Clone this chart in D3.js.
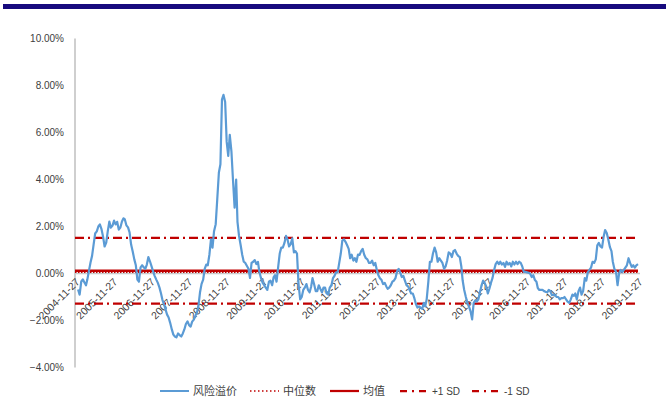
<!DOCTYPE html>
<html>
<head>
<meta charset="utf-8">
<script src="https://cdn.jsdelivr.net/npm/d3@7"></script>
<style>
  html, body { margin: 0; padding: 0; background: #fff; }
  svg { display: block; }
  text { font-family: "Liberation Sans", Arial, sans-serif; fill: #404040; }
  .cjk { font-family: "Noto Sans CJK SC", sans-serif; }
</style>
</head>
<body>
<svg id="chart" width="666" height="417"></svg>
<script>
// ---- data ----
const startDate = "2004-11-27";           // first category; two observations per month
const tickLabels = ["2004-11-27","2005-11-27","2006-11-27","2007-11-27","2008-11-27",
  "2009-11-27","2010-11-27","2011-11-27","2012-11-27","2013-11-27","2014-11-27",
  "2015-11-27","2016-11-27","2017-11-27","2018-11-27","2019-11-27"];
const yTicks = [-4, -2, 0, 2, 4, 6, 8, 10];
// risk premium (%), semi-monthly, one row per year starting at startDate
const premium = [
  null,null,-0.68,-0.9,-0.34,-0.25,-0.38,-0.5,-0.26,0.1,0.47,0.75,1.23,1.7,1.79,2.0,2.09,1.9,1.57,1.15,1.32,1.8,2.21,1.95,
  2.04,2.25,2.09,2.2,1.87,1.95,2.21,2.35,2.30,2.05,1.96,1.75,1.23,0.95,0.60,0.35,-0.26,-0.35,0.26,0.35,0.26,0.2,0.38,0.7,
  0.51,0.3,0.09,-0.1,-0.26,-0.4,-0.60,-0.85,-1.11,-1.3,-1.53,-1.75,-1.87,-2.1,-2.38,-2.6,-2.68,-2.72,-2.55,-2.62,-2.68,-2.55,-2.38,-2.15,
  -2.04,-2.2,-2.26,-2.05,-1.96,-1.8,-1.66,-1.35,-0.81,-0.45,-0.26,0.2,0.38,0.35,0.81,1.45,1.1,1.8,2.1,3.15,4.3,4.65,7.4,7.6,
  7.3,5.6,5.0,5.9,5.2,4.0,2.8,4.0,2.2,1.6,1.2,0.8,0.5,0.45,0.32,0.2,-0.19,0.45,0.5,0.57,0.4,0.49,0.05,-0.2,
  -0.4,-0.5,-0.6,-0.7,-0.35,-0.3,-0.5,-0.15,-0.07,-0.35,0.28,0.85,1.1,1.1,1.3,1.6,1.45,1.15,1.25,1.5,0.9,0.95,0.85,-0.45,
  -1.1,-1.0,-0.7,-0.6,-0.45,-0.7,-0.8,-0.55,-0.2,-0.45,-0.75,-0.75,-0.5,-0.65,-0.8,-0.6,-0.6,-0.85,-0.9,-0.6,-0.5,-0.2,-0.1,0.05,
  0.06,0.45,0.85,1.4,1.45,1.35,1.2,1.05,0.65,0.8,0.55,0.65,0.5,0.8,0.79,0.95,1.05,0.8,0.65,0.6,0.45,0.45,0.55,0.35,
  0.45,0.15,-0.07,-0.2,-0.28,-0.45,-0.4,-0.55,-0.65,-0.6,-0.5,-0.35,-0.3,-0.2,0.1,0.2,0.05,-0.15,-0.1,-0.3,-0.5,-0.55,-0.7,-0.85,
  -0.85,-1.05,-1.3,-1.45,-1.4,-1.45,-1.5,-1.25,-1.4,-1.1,-0.35,0.5,0.5,0.85,1.1,0.9,0.5,0.65,0.55,0.45,0.2,0.3,0.55,0.9,
  0.85,0.7,0.95,1.0,0.85,0.75,0.7,0.3,-0.3,-0.7,-1.0,-1.25,-1.4,-1.6,-1.95,-1.25,-1.15,-1.2,-1.1,-0.8,-0.5,-0.3,-0.4,-0.55,
  -0.85,-0.65,-0.4,-0.2,0.15,0.4,0.5,0.4,0.5,0.38,0.45,0.28,0.5,0.38,0.45,0.3,0.5,0.38,0.5,0.4,0.5,0.45,0.3,0.07,
  0.07,0.05,0.03,0.0,-0.15,-0.07,-0.28,-0.35,-0.62,-0.7,-0.7,-0.7,-0.75,-0.78,-0.8,-0.7,-0.75,-0.92,-0.9,-0.92,-1.0,-1.0,-1.1,-1.05,
  -1.05,-1.0,-1.1,-1.2,-1.25,-1.1,-0.9,-0.95,-0.85,-1.1,-0.75,-0.6,-0.9,-0.75,-0.2,-0.3,0.06,0.15,0.25,0.5,0.45,0.6,1.2,1.3,
  1.15,1.1,1.55,1.85,1.72,1.45,1.12,0.95,0.5,0.2,0.08,-0.5,0.0,0.15,0.06,0.15,0.25,0.35,0.65,0.45,0.28,0.35,0.25,0.35,
  0.4];
const medianValue = 0.05;
const meanValue = 0.12;
const sdValue = 1.40;
const legendLabels = ["风险溢价", "中位数", "均值", "+1 SD", "-1 SD"];

// ---- drawing ----
const svg = d3.select("#chart");
const parse = d3.timeParse("%Y-%m-%d");
const t0 = parse(startDate);
const series = premium.map((v, j) => {
  const m = d3.timeMonth.offset(t0, Math.floor(j / 2));
  return { date: j % 2 ? d3.timeDay.offset(m, 15) : m, v };
});
const tickDates = tickLabels.map(parse);

const x = d3.scaleTime()
  .domain([t0, tickDates[tickDates.length - 1]])
  .range([75, 638]);
const y = d3.scaleLinear().domain([-4, 10]).range([367.5, 38.5]);

// top bar
svg.append("rect").attr("x", 3).attr("y", 4).attr("width", 663).attr("height", 5)
  .attr("fill", "#170a7e");

// y axis line
svg.append("line").attr("x1", 75).attr("x2", 75).attr("y1", y(10)).attr("y2", y(-4))
  .attr("stroke", "#bfbfbf").attr("stroke-width", 1.5);

// y labels
const yAxis = d3.axisLeft(y).tickValues(yTicks).tickSize(0).tickPadding(11)
  .tickFormat(d => d3.format(".2f")(d) + "%");
const gy = svg.append("g").attr("transform", "translate(75,0)").call(yAxis);
gy.select(".domain").remove();
gy.selectAll("text").attr("font-size", 10).attr("fill", "#404040")
  .attr("font-family", "Liberation Sans, Arial, sans-serif");

// zero line (category axis)
svg.append("line").attr("x1", 75).attr("x2", 640).attr("y1", y(0)).attr("y2", y(0))
  .attr("stroke", "#c8c8c8").attr("stroke-width", 1.5);

// x labels via axis
const xAxis = d3.axisBottom(x).tickValues(tickDates).tickSize(0)
  .tickFormat((d, i) => tickLabels[i]);
const gx = svg.append("g").attr("transform", `translate(0,${y(0)})`).call(xAxis);
gx.select(".domain").remove();
gx.selectAll(".tick text")
  .attr("font-size", 10.5).attr("fill", "#333333")
  .attr("font-family", "Liberation Sans, Arial, sans-serif")
  .attr("text-anchor", "end")
  .attr("dy", 0)
  .attr("y", 0)
  .attr("transform", "translate(5,9) rotate(-45)");

// reference lines
const xEnd = x(series[series.length - 1].date);
function hline(val, stroke, width, dash) {
  svg.append("line").attr("x1", 75).attr("x2", xEnd)
    .attr("y1", y(val)).attr("y2", y(val))
    .attr("stroke", stroke).attr("stroke-width", width)
    .attr("stroke-dasharray", dash || null);
}
hline(meanValue + sdValue, "#c00000", 2.25, "9,4,2,4");
hline(meanValue - sdValue, "#c00000", 2.25, "9,4,2,4");
hline(meanValue, "#c00000", 2.5, null);
hline(medianValue, "#c00000", 1.5, "1.5,1.5");

// series
const line = d3.line().defined(d => d.v != null)
  .x(d => x(d.date)).y(d => y(d.v));
svg.append("path").datum(series).attr("d", line)
  .attr("fill", "none").attr("stroke", "#5b9bd5").attr("stroke-width", 2.2)
  .attr("stroke-linejoin", "round");

// legend
const lg = svg.append("g").attr("transform", "translate(0,391)");
const items = [
  { x: 160, stroke: "#5b9bd5", w: 2, dash: null },
  { x: 250, stroke: "#c00000", w: 1.5, dash: "1.5,2.5" },
  { x: 330, stroke: "#c00000", w: 2.25, dash: null },
  { x: 400, stroke: "#c00000", w: 2.25, dash: "7,5,2,5" },
  { x: 472, stroke: "#c00000", w: 2.25, dash: "7,5,2,5" }
];
items.forEach((it, i) => {
  lg.append("line").attr("x1", it.x).attr("x2", it.x + 29).attr("y1", 0).attr("y2", 0)
    .attr("stroke", it.stroke).attr("stroke-width", it.w).attr("stroke-dasharray", it.dash);
  const isCjk = /[\u4e00-\u9fff]/.test(legendLabels[i]);
  lg.append("text").attr("x", it.x + (isCjk ? 33 : 32)).attr("y", 0).attr("dy", "0.35em")
    .attr("class", isCjk ? "cjk" : null)
    .attr("font-size", isCjk ? 11 : 10)
    .text(legendLabels[i]);
});
</script>
</body>
</html>
